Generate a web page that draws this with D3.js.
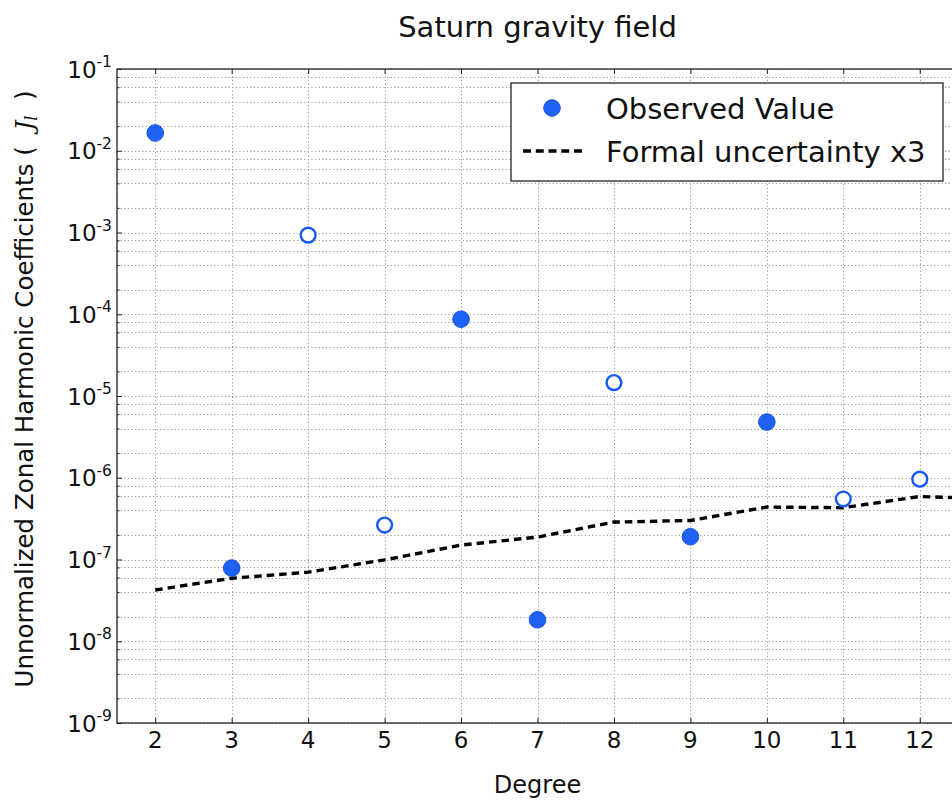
<!DOCTYPE html>
<html>
<head>
<meta charset="utf-8">
<script src="https://cdn.jsdelivr.net/npm/d3@7"></script>
<style>
  html, body { margin: 0; padding: 0; background: #fff; }
  svg { display: block; font-family: "DejaVu Sans", sans-serif; }
</style>
</head>
<body>
<svg id="chart" width="952" height="801"></svg>
<script>
// Zonal harmonic degrees and the measured coefficients J_l (sign kept: negative ones drawn hollow)
const degrees = [2, 3, 4, 5, 6, 7, 8, 9, 10, 11, 12];
const observed = [1.65e-2, 7.85e-8, -9.3e-4, -2.64e-7, 8.7e-5, 1.83e-8, -1.46e-5, 1.9e-7, 4.8e-6, -5.5e-7, -9.6e-7];

// Three times the formal uncertainty for each degree (the curve runs on past the right edge)
const uncDegrees = [2, 3, 4, 5, 6, 7, 8, 9, 10, 11, 12, 13];
const uncertainty = [4.24e-8, 5.9e-8, 7.0e-8, 9.9e-8, 1.5e-7, 1.88e-7, 2.87e-7, 3.0e-7, 4.38e-7, 4.3e-7, 5.9e-7, 5.5e-7];

// Axis ticks
const xTicks = [2, 3, 4, 5, 6, 7, 8, 9, 10, 11, 12];
const yExponents = [-9, -8, -7, -6, -5, -4, -3, -2, -1];
const minorSubs = [2, 4, 6, 8];

const svg = d3.select("#chart");
const plotL = 117, plotR = 958, plotT = 69, plotB = 723;

const x = d3.scaleLinear().domain([1.5, 12.5]).range([plotL, plotR]);
const y = d3.scaleLog().domain([1e-9, 1e-1]).range([plotB, plotT]);

const majorVals = yExponents.map(e => Math.pow(10, e));
const minorVals = [];
yExponents.slice(0, -1).forEach(e => minorSubs.forEach(s => minorVals.push(s * Math.pow(10, e))));

// Dotted grid
const grid = svg.append("g").attr("stroke", "#9a9a9a").attr("stroke-width", 1)
  .attr("stroke-dasharray", "1.2,2.4").attr("fill", "none");
grid.selectAll("line.gx").data(xTicks).join("line")
  .attr("x1", d => Math.round(x(d)) + 0.5).attr("x2", d => Math.round(x(d)) + 0.5)
  .attr("y1", plotT).attr("y2", plotB);
grid.selectAll("line.gy").data(majorVals.concat(minorVals)).join("line")
  .attr("x1", plotL).attr("x2", plotR)
  .attr("y1", d => Math.round(y(d)) + 0.5).attr("y2", d => Math.round(y(d)) + 0.5);

// Inward ticks on all four sides via d3 axes
const tickStyle = g => {
  g.select(".domain").remove();
  g.selectAll(".tick line").attr("stroke", "#222").attr("stroke-width", 1);
  g.selectAll(".tick text").remove();
};
svg.append("g").attr("transform", `translate(0,${plotB})`)
  .call(d3.axisBottom(x).tickValues(xTicks).tickSize(-5)).call(tickStyle);
svg.append("g").attr("transform", `translate(0,${plotT})`)
  .call(d3.axisTop(x).tickValues(xTicks).tickSize(-5)).call(tickStyle);
svg.append("g").attr("transform", `translate(${plotL},0)`)
  .call(d3.axisLeft(y).tickValues(majorVals).tickSize(-5)).call(tickStyle);
svg.append("g").attr("transform", `translate(${plotL},0)`)
  .call(d3.axisLeft(y).tickValues(minorVals).tickSize(-2.5)).call(tickStyle);

// Tick labels
svg.append("g").selectAll("text").data(xTicks).join("text")
  .attr("x", d => x(d)).attr("y", 748)
  .attr("text-anchor", "middle").attr("font-size", 23).attr("fill", "#111")
  .text(d => d);

const yl = svg.append("g").selectAll("text").data(yExponents).join("text")
  .attr("x", 112).attr("y", d => y(Math.pow(10, d)) + 8.5)
  .attr("text-anchor", "end").attr("fill", "#111");
yl.append("tspan").attr("font-size", 23).text("10");
yl.append("tspan").attr("font-size", 15.5).attr("dy", -10.5).text(d => String(d));

// Data, clipped to the plotting area
svg.append("clipPath").attr("id", "plotArea").append("rect")
  .attr("x", plotL).attr("y", plotT).attr("width", plotR - plotL).attr("height", plotB - plotT);
const plot = svg.append("g").attr("clip-path", "url(#plotArea)");

const uncData = uncDegrees.map((d, i) => ({ d, v: uncertainty[i] }));
plot.append("path").datum(uncData)
  .attr("fill", "none").attr("stroke", "#000").attr("stroke-width", 3.4)
  .attr("stroke-dasharray", "7.5,5")
  .attr("d", d3.line().x(p => x(p.d)).y(p => y(p.v)));

const obsData = degrees.map((d, i) => ({ d, v: observed[i] }));
plot.selectAll("circle.obs").data(obsData).join("circle")
  .attr("cx", p => x(p.d)).attr("cy", p => y(Math.abs(p.v)))
  .attr("r", p => p.v > 0 ? 8.3 : 7.4)
  .attr("fill", p => p.v > 0 ? "#1f60f5" : "#fff")
  .attr("stroke", p => p.v > 0 ? "#1852e6" : "#1559f0")
  .attr("stroke-width", p => p.v > 0 ? 1 : 2.4);

// Frame
svg.append("rect").attr("x", plotL).attr("y", plotT).attr("width", plotR - plotL).attr("height", plotB - plotT)
  .attr("fill", "none").attr("stroke", "#222").attr("stroke-width", 1.3);

// Title and axis labels
svg.append("text").attr("x", (plotL + plotR) / 2).attr("y", 37)
  .attr("text-anchor", "middle").attr("font-size", 29).attr("fill", "#111")
  .text("Saturn gravity field");

svg.append("text").attr("x", (plotL + plotR) / 2).attr("y", 793)
  .attr("text-anchor", "middle").attr("font-size", 24).attr("fill", "#111")
  .text("Degree");

const ylab = svg.append("text")
  .attr("transform", "translate(33,389) rotate(-90)")
  .attr("text-anchor", "middle").attr("font-size", 24.5).attr("fill", "#111")
  .style("white-space", "pre");
ylab.append("tspan").text("Unnormalized Zonal Harmonic Coefficients ( ");
ylab.append("tspan").attr("font-family", "DejaVu Serif").attr("font-style", "italic").text(" J");
ylab.append("tspan").attr("font-family", "DejaVu Serif").attr("font-style", "italic")
  .attr("font-size", 16).attr("dy", 4).text("l");
ylab.append("tspan").attr("dy", -4).text("  )");

// Legend
const lg = svg.append("g");
lg.append("rect").attr("x", 511).attr("y", 83).attr("width", 432).attr("height", 98)
  .attr("fill", "#fff").attr("stroke", "#111").attr("stroke-width", 1.2);
lg.append("circle").attr("cx", 552).attr("cy", 108).attr("r", 8.3)
  .attr("fill", "#1f60f5").attr("stroke", "#1852e6").attr("stroke-width", 1);
lg.append("line").attr("x1", 523).attr("x2", 582).attr("y1", 151).attr("y2", 151)
  .attr("stroke", "#000").attr("stroke-width", 3.4).attr("stroke-dasharray", "8,4.75");
lg.append("text").attr("x", 606).attr("y", 118.5).attr("font-size", 29).attr("fill", "#111")
  .text("Observed Value");
lg.append("text").attr("x", 606).attr("y", 161.5).attr("font-size", 29).attr("fill", "#111")
  .text("Formal uncertainty x3");
</script>
</body>
</html>
